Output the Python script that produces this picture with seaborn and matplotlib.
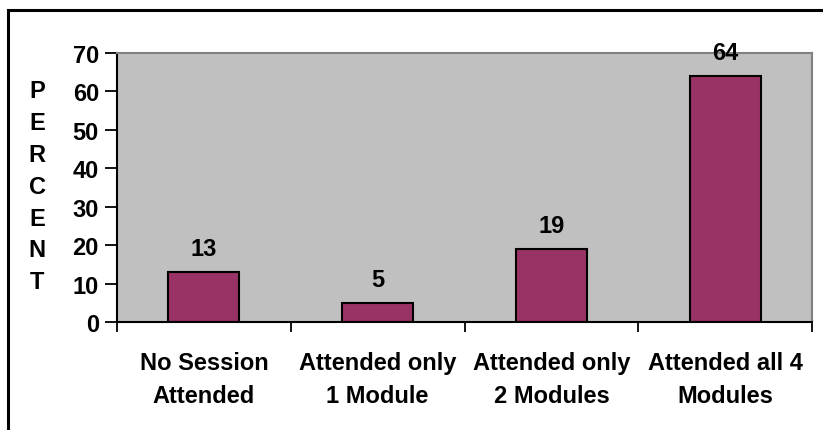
import matplotlib
matplotlib.use("Agg")
import matplotlib.pyplot as plt
import matplotlib.patches as mpatches
import seaborn as sns
import pandas as pd

categories = ["No Session\nAttended", "Attended only\n1 Module",
              "Attended only\n2 Modules", "Attended all 4\nModules"]
percent = [13, 5, 19, 64]
y_ticks = [0, 10, 20, 30, 40, 50, 60, 70]
y_label_letters = list("PERCENT")

sns.set_theme(style="white")
plt.rcParams["font.family"] = ["Liberation Sans", "DejaVu Sans"]
plt.rcParams["font.weight"] = "bold"
plt.rcParams["text.color"] = "black"
plt.rcParams["xtick.color"] = "black"
plt.rcParams["ytick.color"] = "black"
plt.rcParams["xtick.labelcolor"] = "black"
plt.rcParams["ytick.labelcolor"] = "black"

FS = 17

df = pd.DataFrame({"category": categories, "percent": percent})

W, H = 823, 431
fig = plt.figure(figsize=(W / 100, H / 100), dpi=100)
fig.patch.set_facecolor("white")

# outer frame of the chart area
fig.patches.append(mpatches.Rectangle((8 / W, -0.1), 1.2, 1 - 11 / H + 0.1,
                                      transform=fig.transFigure, fill=False,
                                      edgecolor="black", linewidth=2.2))

ax = fig.add_axes([117 / W, 1 - 323 / H, (812 - 117) / W, (323 - 54) / H])
ax.set_facecolor("#C0C0C0")

sns.barplot(data=df, x="category", y="percent", color="#993366",
            edgecolor="black", linewidth=1.5, width=0.41, saturation=1,
            ax=ax)

ax.set_xlim(-0.5, len(categories) - 0.5)
ax.set_ylim(0, 70)
ax.set_yticks(y_ticks)
ax.set_yticklabels([str(t) for t in y_ticks], fontsize=FS, fontweight="bold",
                   color="black")

# category labels at bar centres, tick marks on category boundaries
ax.set_xticks(range(len(categories)))
ax.set_xticklabels(categories, fontsize=FS, fontweight="bold",
                   linespacing=1.55, color="black")
ax.set_xticks([i - 0.5 for i in range(len(categories) + 1)], minor=True)
ax.tick_params(axis="x", which="major", length=0, pad=21)
ax.tick_params(axis="x", which="minor", length=7, width=1.3, color="black",
               direction="out", bottom=True)
ax.tick_params(axis="y", length=9, width=1.3, color="black", direction="out",
               left=True, pad=4)
ax.set_xlabel("")
ax.set_ylabel("")

for side in ("left", "bottom"):
    ax.spines[side].set_color("black")
    ax.spines[side].set_linewidth(1.5)
for side in ("top", "right"):
    ax.spines[side].set_color("#808080")
    ax.spines[side].set_linewidth(1.5)
    ax.spines[side].set_visible(True)

for i, v in enumerate(percent):
    ax.annotate(str(v), (i, v), xytext=(0, 17), textcoords="offset points",
                ha="center", va="center", fontsize=FS, fontweight="bold",
                color="black", annotation_clip=False)

# vertical stacked axis title
for k, ch in enumerate(y_label_letters):
    fig.text(37 / W, 1 - (92 + k * 31.8) / H, ch, ha="center", va="center",
             fontsize=FS, fontweight="bold", color="black")

fig.savefig("out.png", dpi=100)
